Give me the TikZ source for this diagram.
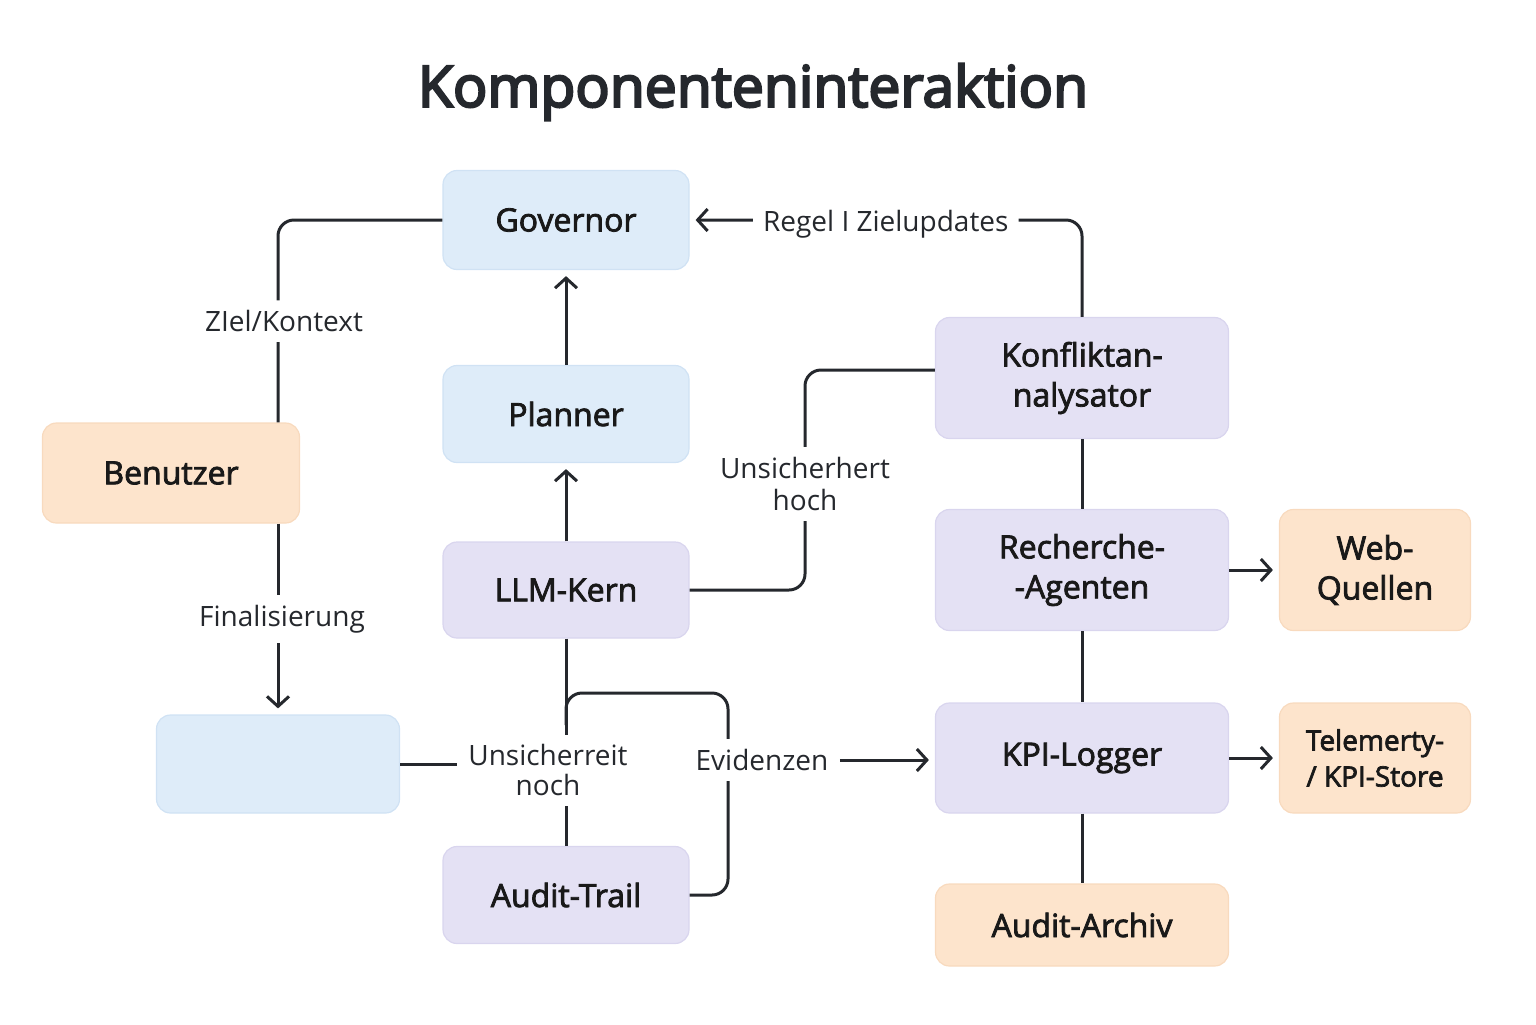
\documentclass[tikz,border=0pt]{standalone}
\usepackage{fontspec}
\setmainfont{Open Sans}
\newfontfamily\boxfont{Open Sans}[FakeBold=2.5]
\newfontfamily\titlefont{Open Sans}[FakeBold=4]
\usepackage{tikz}
\usetikzlibrary{arrows.meta}

\definecolor{ink}{HTML}{25282D}
\definecolor{bluefill}{HTML}{DEECF9}
\definecolor{blueline}{HTML}{D0E2F4}
\definecolor{lilacfill}{HTML}{E4E1F4}
\definecolor{lilacline}{HTML}{D9D5EE}
\definecolor{peachfill}{HTML}{FDE4CC}
\definecolor{peachline}{HTML}{F8DABE}

\begin{document}
\begin{tikzpicture}[x=0.5pt,y=-0.5pt,color=ink,line width=1.5pt,
                    >={Straight Barb[length=5pt,width=11pt]},
                    flow/.style={->,shorten >=3pt},
                    box/.style={rectangle,rounded corners=7pt,inner sep=0pt,align=center,
                                line width=0.6pt,text=black!90,font=\boxfont\fontsize{16}{20}\selectfont},
                    bluebox/.style={box,fill=bluefill,draw=blueline},
                    lilacbox/.style={box,fill=lilacfill,draw=lilacline},
                    peachbox/.style={box,fill=peachfill,draw=peachline},
                    lbl/.style={fill=white,inner sep=5pt,align=center,font=\fontsize{14}{16}\selectfont}]

        \useasboundingbox (0,0) rectangle (1536,1024);

        \node (title) at (753,92) {\titlefont\fontsize{28.5}{34}\selectfont Komponenteninteraktion};

        % middle column
        \node[bluebox,minimum width=123pt,minimum height=49.5pt] (gov) at (566,220) {Governor};
        \node[bluebox,minimum width=123pt,minimum height=48.5pt] (planner) at (566,414) {Planner};
        \node[lilacbox,minimum width=123pt,minimum height=48pt] (kern) at (566,590) {LLM-Kern};
        \node[lilacbox,minimum width=123pt,minimum height=48.5pt] (trail) at (566,895) {Audit-Trail};

        % left column
        \node[peachbox,minimum width=128.5pt,minimum height=50pt] (user) at (171,473) {Benutzer};
        \node[bluebox,minimum width=121.5pt,minimum height=49pt] (blank) at (278,764) {};

        % right column
        \node[lilacbox,minimum width=146.5pt,minimum height=60.5pt] (konf) at (1082,378) {Konfliktan-\\nalysator};
        \node[lilacbox,minimum width=146.5pt,minimum height=60.5pt] (rech) at (1082,570) {Recherche-\\-Agenten};
        \node[lilacbox,minimum width=146.5pt,minimum height=55pt] (logger) at (1082,758) {KPI-Logger};
        \node[peachbox,minimum width=146.5pt,minimum height=41pt] (archiv) at (1082,925) {Audit-Archiv};
        \node[peachbox,minimum width=95.5pt,minimum height=60.5pt] (web) at (1375,570) {Web-\\Quellen};
        \node[peachbox,minimum width=95.5pt,minimum height=55pt,font=\boxfont\fontsize{14}{18}\selectfont] (store) at (1375,758) {Telemerty-\\/ KPI-Store};

        \coordinate (usertop) at (blank.north |- user.north);
        \coordinate (userbot) at (blank.north |- user.south);
        \coordinate (knee) at (805,484);
        \coordinate (loop) at (728,693);
        \coordinate (junc) at (566,725);

        \draw[rounded corners=8pt] (gov.west) -| node[lbl,pos=0.75,xshift=3pt] {ZIel/Kontext} (usertop);
        \draw[flow] (userbot) -- node[lbl,xshift=2pt] {Finalisierung} (blank.north);

        \path [flow] (planner) edge (gov);
        \path [flow] (kern) edge (planner);

        \draw[rounded corners=8pt] (kern.east) -| (knee) node[lbl] {Unsicherhert\\hoch} |- ([yshift=4pt]konf.west);
        \draw[flow,rounded corners=8pt] (konf.north) |- node[lbl,pos=0.75,yshift=-2pt] {Regel I Zielupdates} (gov.east);

        \path (konf) edge (rech);
        \path (rech) edge (logger);
        \path (logger) edge (archiv);
        \path [flow] (rech) edge (web);
        \path [flow] (logger.east |- store.west) edge (store.west);

        \draw[rounded corners=8pt] (trail.east) -| (loop) -| (junc);
        \draw (kern.south) -- node[lbl,pos=0.636,xshift=-9pt,font=\fontsize{14}{15}\selectfont] (unsure) {Unsicherreit\\noch} (trail.north);
        \draw (blank.east) -- (blank.east -| unsure.west);

        \node[lbl] (evid) at (762,760) {Evidenzen};
        \draw[flow] (evid.east) -- (evid.east -| logger.west);
    \end{tikzpicture}
\end{document}
